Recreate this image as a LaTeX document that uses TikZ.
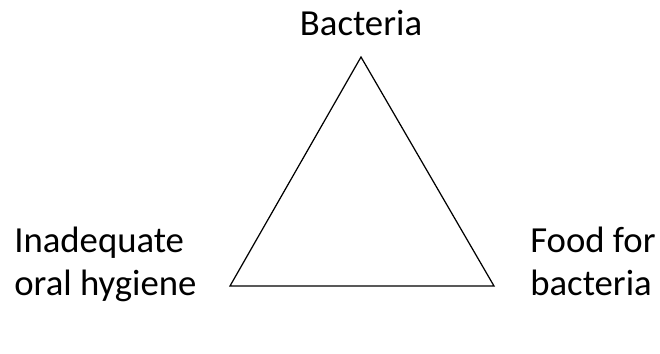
\documentclass[tikz,border=0pt]{standalone}
\usepackage{fontspec}
\setmainfont{Carlito}
\usetikzlibrary{positioning}

\tikzset{
  cause/.style={font=\fontsize{20.9}{25}\selectfont, inner sep=0pt, align=left},
  edge/.style={line width=0.7pt, line join=miter}
}

\begin{document}
\begin{tikzpicture}[x=0.02cm, y=-0.02cm]
  \useasboundingbox (0,0) rectangle (660,354);

  % corners of the triangle
  \coordinate (top) at (361,57);
  \coordinate (left) at (230,286);
  \coordinate (right) at (494,286);

  \draw[edge] (top) -- (left) -- (right) -- cycle;

  % labels
  \node[cause, anchor=base] (bacteria) at (361,36) {Bacteria};
  \node[cause, anchor=base west] (hygiene) at (14,296) {Inadequate\\oral hygiene};
  \node[cause, anchor=base west] (food) at (530,296) {Food for\\bacteria};
\end{tikzpicture}
\end{document}
